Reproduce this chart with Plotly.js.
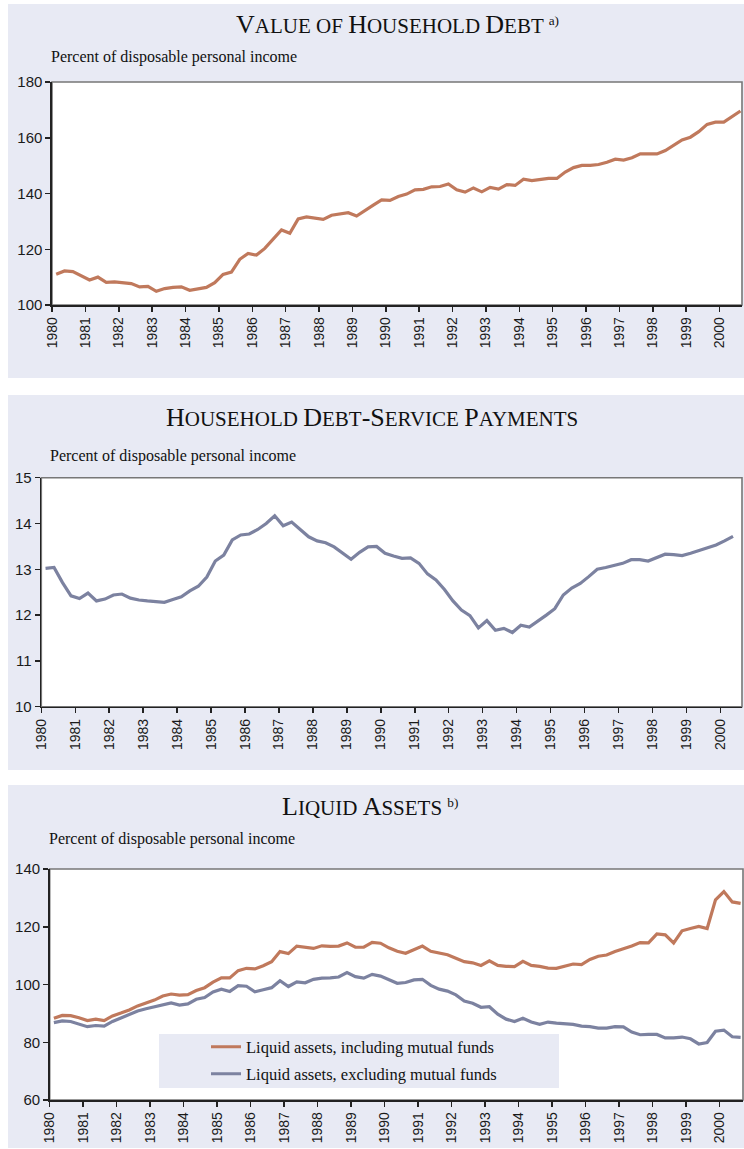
<!DOCTYPE html>
<html>
<head>
<meta charset="utf-8">
<script src="https://cdn.plot.ly/plotly-3.0.1.min.js"></script>
<style>
html,body{margin:0;padding:0;background:#fff;}
#chart{width:744px;height:1149px;}
</style>
</head>
<body>
<div id="chart"></div>
<script>
// ---------- DATA (quarterly, starting 1980 Q1) ----------
const startYear = 1980;
const yearTicks = [1980,1981,1982,1983,1984,1985,1986,1987,1988,1989,1990,1991,1992,1993,1994,1995,1996,1997,1998,1999,2000];
const yearLabels = yearTicks.map(String);

// Value of household debt, % of disposable personal income (1980Q1-2000Q3)
const householdDebt = [
 111.0,112.2,112.0,110.4,109.0,110.0,108.1,108.3,107.9,107.7,
 106.5,106.7,104.9,105.9,106.3,106.5,105.3,105.8,106.3,108.0,
 111.0,111.8,116.4,118.5,117.9,120.3,123.6,126.9,125.7,130.9,
 131.6,131.1,130.7,132.2,132.6,133.1,131.9,133.7,135.8,137.7,
 137.5,138.9,139.8,141.3,141.5,142.4,142.5,143.4,141.3,140.5,
 142.0,140.6,142.2,141.6,143.2,142.9,145.1,144.6,145.1,145.4,
 145.4,147.7,149.3,150.1,150.1,150.4,151.2,152.3,152.0,152.8,
 154.2,154.3,154.2,155.4,157.2,159.2,160.2,162.2,164.8,165.6,
 165.6,167.6,169.6
];

// Household debt-service payments, % of disposable personal income (1980Q1-2000Q2)
const debtService = [
 13.02,13.04,12.71,12.42,12.36,12.48,12.31,12.35,12.44,12.46,
 12.37,12.33,12.31,12.30,12.28,12.34,12.40,12.53,12.63,12.83,
 13.18,13.31,13.64,13.75,13.77,13.87,14.00,14.17,13.95,14.03,
 13.86,13.71,13.62,13.58,13.49,13.36,13.22,13.37,13.49,13.50,
 13.35,13.29,13.24,13.25,13.13,12.90,12.77,12.56,12.31,12.11,
 11.99,11.72,11.88,11.67,11.71,11.62,11.78,11.74,11.86,12.00,
 12.14,12.44,12.59,12.69,12.84,13.00,13.04,13.09,13.13,13.21,
 13.21,13.18,13.25,13.33,13.32,13.30,13.35,13.41,13.47,13.53,
 13.62,13.72
];

// Liquid assets, % of disposable personal income (1980Q1-2000Q3)
const liquidInclMF = [
 88.3,89.3,89.2,88.5,87.5,88.0,87.5,89.1,90.1,91.2,
 92.6,93.7,94.6,96.0,96.7,96.3,96.5,97.9,98.9,100.8,
 102.3,102.3,104.8,105.6,105.4,106.5,107.9,111.4,110.7,113.3,
 112.9,112.5,113.4,113.2,113.3,114.4,112.9,112.9,114.6,114.3,
 112.7,111.5,110.8,112.0,113.3,111.5,111.0,110.3,109.1,107.9,
 107.5,106.6,108.2,106.6,106.3,106.2,108.0,106.6,106.3,105.7,
 105.6,106.3,107.1,106.9,108.7,109.8,110.2,111.4,112.3,113.3,
 114.5,114.4,117.5,117.2,114.4,118.6,119.4,120.1,119.4,129.3,
 132.2,128.6,128.1
];
const liquidExclMF = [
 86.8,87.4,87.2,86.3,85.4,85.8,85.6,87.2,88.5,89.7,
 90.8,91.6,92.2,92.9,93.6,92.9,93.3,94.9,95.5,97.4,
 98.4,97.6,99.6,99.4,97.5,98.2,98.9,101.3,99.3,100.9,
 100.6,101.8,102.2,102.3,102.6,104.1,102.7,102.2,103.5,102.9,
 101.6,100.4,100.7,101.6,101.8,99.7,98.4,97.7,96.4,94.3,
 93.5,92.1,92.3,89.7,88.0,87.2,88.3,87.0,86.2,87.0,
 86.6,86.5,86.2,85.6,85.4,84.9,84.9,85.4,85.3,83.5,
 82.6,82.7,82.7,81.5,81.5,81.8,81.2,79.4,79.9,83.8,
 84.2,81.9,81.7
];

const SC = 'font-size:21px';
const titles = [
  'V<span style="' + SC + '">ALUE OF </span>H<span style="' + SC + '">OUSEHOLD </span>D<span style="' + SC + '">EBT </span><span style="font-size:19px"><sup>a)</sup></span>',
  'H<span style="' + SC + '">OUSEHOLD </span>D<span style="' + SC + '">EBT</span>-S<span style="' + SC + '">ERVICE </span>P<span style="' + SC + '">AYMENTS</span>',
  'L<span style="' + SC + '">IQUID </span>A<span style="' + SC + '">SSETS </span><span style="font-size:19px"><sup>b)</sup></span>'
];
const unitLabel = 'Percent of disposable personal income';
const legendNames = ['Liquid assets, including mutual funds','Liquid assets, excluding mutual funds'];

// ---------- STYLE ----------
const W = 744, H = 1149;
const px = x => x / W;
const py = y => 1 - y / H;
const ORANGE = 'rgb(192,121,92)';
const BLUE = 'rgb(124,130,160)';
const PANEL = 'rgb(232,234,244)';
const serif = '"Liberation Serif", "Times New Roman", serif';
const sans = '"Liberation Sans", Arial, sans-serif';

const quarterX = n => Array.from({length:n}, (_, k) => startYear + 0.125 + 0.25 * k);

// panel geometry (pixels)
const panels = [
  {bg:[8,4,744,378],   plot:[52,82,742,305],        ppy:33.38, yr:[100,180], dy:20, title:[234,41], sub:[49,68]},
  {bg:[8,395,744,770], plot:[41.3,477.7,742,706.7], ppy:33.95, yr:[10,15],   dy:1,  title:[164,434], sub:[48,467]},
  {bg:[8,785,744,1148],plot:[49.7,869,743,1100],    ppy:33.5,  yr:[60,140],  dy:20, title:[280,823], sub:[46.5,850]}
];

const traces = [
  {x: quarterX(householdDebt.length), y: householdDebt, xaxis:'x', yaxis:'y', type:'scatter', mode:'lines',
   line:{color:ORANGE, width:3.2}, showlegend:false},
  {x: quarterX(debtService.length), y: debtService, xaxis:'x2', yaxis:'y2', type:'scatter', mode:'lines',
   line:{color:BLUE, width:3.2}, showlegend:false},
  {x: quarterX(liquidInclMF.length), y: liquidInclMF, xaxis:'x3', yaxis:'y3', type:'scatter', mode:'lines',
   line:{color:ORANGE, width:3.2}, name: legendNames[0], showlegend:true, legend:'legend'},
  {x: quarterX(liquidExclMF.length), y: liquidExclMF, xaxis:'x3', yaxis:'y3', type:'scatter', mode:'lines',
   line:{color:BLUE, width:3.2}, name: legendNames[1], showlegend:true, legend:'legend2'}
];

const legendFont = {family:serif, size:16.5, color:'#111'};
const layout = {
  width: W, height: H,
  margin: {l:0, r:0, t:0, b:0},
  paper_bgcolor: '#ffffff',
  plot_bgcolor: 'rgba(0,0,0,0)',
  showlegend: true,
  shapes: [], annotations: [],
  legend: {x: px(206), y: py(1047), xanchor:'left', yanchor:'middle', bgcolor:'rgba(0,0,0,0)', font: legendFont},
  legend2: {x: px(206), y: py(1074), xanchor:'left', yanchor:'middle', bgcolor:'rgba(0,0,0,0)', font: legendFont}
};

panels.forEach((p, i) => {
  const s = i === 0 ? '' : String(i + 1);
  const [x0, y0, x1, y1] = p.plot;
  const xmax = startYear + (x1 - x0) / p.ppy;
  layout['xaxis' + s] = {
    domain: [px(x0), px(x1)], range: [startYear, xmax], anchor: 'y' + s,
    tickmode: 'array', tickvals: yearTicks, ticktext: yearLabels, tickangle: -90,
    ticks: 'outside', ticklen: 5, tickwidth: 1.5, tickcolor: '#222',
    showline: true, linecolor: '#222', linewidth: 1.6, showgrid: false, zeroline: false,
    tickfont: {family: sans, size: 14, color: '#1a1a1a'}, fixedrange: true
  };
  layout['yaxis' + s] = {
    domain: [py(y1), py(y0)], range: p.yr, anchor: 'x' + s,
    tickmode: 'linear', tick0: p.yr[0], dtick: p.dy,
    ticks: 'outside', ticklen: 5, tickwidth: 1.5, tickcolor: '#222',
    showline: true, linecolor: '#222', linewidth: 1.6, showgrid: false, zeroline: false,
    tickfont: {family: sans, size: 15, color: '#1a1a1a'}, fixedrange: true
  };
  layout.shapes.push({type:'rect', xref:'paper', yref:'paper', layer:'below',
    x0: px(p.bg[0]), x1: px(p.bg[2]), y0: py(p.bg[3]), y1: py(p.bg[1]),
    fillcolor: PANEL, line:{width:0}});
  layout.shapes.push({type:'rect', xref:'paper', yref:'paper', layer:'below',
    x0: px(x0), x1: px(x1), y0: py(y1), y1: py(y0),
    fillcolor: '#ffffff', line:{color:'#777', width:1.6}});
  layout.annotations.push({xref:'paper', yref:'paper', x: px(p.title[0]), y: py(p.title[1]),
    xanchor:'left', yanchor:'bottom', showarrow:false, text: titles[i],
    font:{family: serif, size: 26, color:'#111'}});
  layout.annotations.push({xref:'paper', yref:'paper', x: px(p.sub[0]), y: py(p.sub[1]),
    xanchor:'left', yanchor:'bottom', showarrow:false, text: unitLabel,
    font:{family: serif, size: 16, color:'#111'}});
});

layout.shapes.push({type:'rect', xref:'paper', yref:'paper', layer:'below',
  x0: px(159), x1: px(559), y0: py(1088), y1: py(1034), fillcolor: PANEL, line:{width:0}});

Plotly.newPlot('chart', traces, layout, {displayModeBar:false, staticPlot:true});
</script>
</body>
</html>
